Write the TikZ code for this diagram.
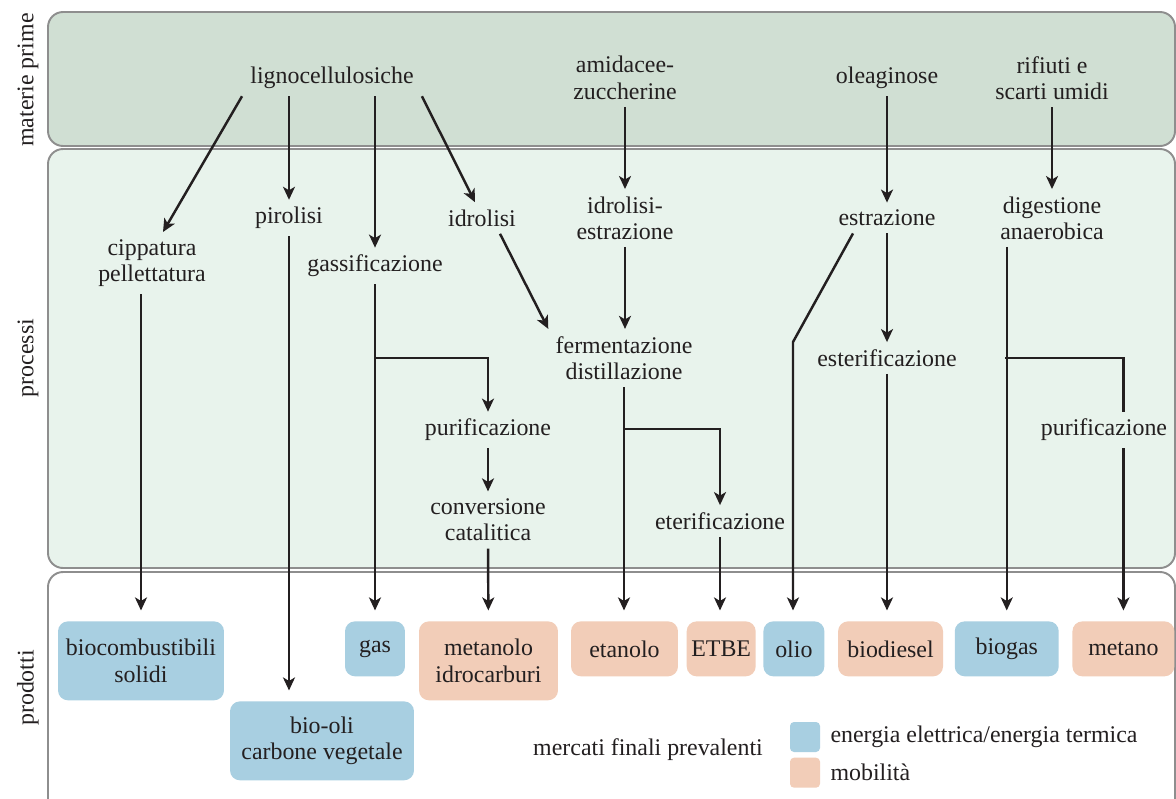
\documentclass[tikz,border=0pt]{standalone}
\usepackage{fontspec}
\setmainfont{Liberation Serif}
\usetikzlibrary{arrows.meta, positioning}
\definecolor{rawgreen}{HTML}{D0DFD3}
\definecolor{procgreen}{HTML}{E8F3EC}
\definecolor{bandgray}{HTML}{8E8E8E}
\definecolor{elblue}{HTML}{A8CFE1}
\definecolor{mobpeach}{HTML}{F2CDB8}
\definecolor{inkblack}{HTML}{231F20}

\begin{document}
\begin{tikzpicture}[
    x=0.02cm, y=-0.02cm,
    every node/.style={font=\fontsize{13.6}{15}\selectfont, text=inkblack},
    band/.style={draw=bandgray, line width=1.1pt, rounded corners=0.3cm},
    sidelabel/.style={rotate=90},
    txt/.style={align=center, inner sep=4pt},
    prod/.style={rounded corners=0.2cm, align=center, inner sep=2pt, minimum height=1.1cm},
    prodblue/.style={prod, fill=elblue},
    prodpeach/.style={prod, fill=mobpeach},
    conn/.style={-{Stealth[length=7.4pt, width=6.8pt, inset=2pt]}, line width=1.4pt, draw=inkblack},
    link/.style={line width=1.4pt, draw=inkblack},
    toprod/.style={conn, shorten >=6pt},
    key/.style={rounded corners=0.08cm, minimum size=0.6cm, inner sep=0pt}
]
\useasboundingbox (0,0) rectangle (1176,798);
\clip (0,0) rectangle (1176,798);

% Bands
\draw[band, fill=rawgreen] (48,12) rectangle (1175,146);
\draw[band, fill=procgreen] (48,149) rectangle (1175,568);
\draw[band, fill=white] (48,572) rectangle (1175,830);
\node[sidelabel] (lblraw) at (28,80) {materie prime};
\node[sidelabel] (lblproc) at (28,358) {processi};
\node[sidelabel] (lblprod) at (28,688) {prodotti};

% Materie prime
\node[txt] (ligno) at (332,78) {lignocellulosiche};
\node[txt] (amid) at (625,78) {amidacee-\\zuccherine};
\node[txt] (olea) at (887,78) {oleaginose};
\node[txt] (rifiuti) at (1052,78) {rifiuti e\\scarti umidi};

% Processi
\node[txt] (cipp) at (152,263) {cippatura\\pellettatura};
\node[txt] (piro) at (289,218) {pirolisi};
\node[txt] (gass) at (375,266) {gassificazione};
\node[txt] (idro) at (482,218) {idrolisi};
\node[txt] (idroestr) at (625,218) {idrolisi-\\estrazione};
\node[txt] (ferm) at (624,358) {fermentazione\\distillazione};
\node[txt] (purgas) at (488,430) {purificazione};
\node[txt] (conv) at (488,520) {conversione\\catalitica};
\node[txt] (eter) at (720,521) {eterificazione};
\node[txt] (estr) at (887,218) {estrazione};
\node[txt] (ester) at (887,358) {esterificazione};
\node[txt] (dig) at (1052,218) {digestione\\anaerobica};
\node[txt] (purbio) at (1104,430) {purificazione};

% Prodotti
\node[prodblue, minimum width=3.32cm, minimum height=1.58cm, anchor=north] (solidi) at (141,621) {biocombustibili\\solidi};
\node[prodblue, minimum width=3.68cm, minimum height=1.58cm, anchor=north] (biooli) at (322,701) {bio-oli\\carbone vegetale};
\node[prodblue, minimum width=1.2cm, anchor=north] (gas) at (375,621) {gas};
\node[prodpeach, minimum width=2.78cm, minimum height=1.58cm, anchor=north] (metanolo) at (488.5,621) {metanolo\\idrocarburi};
\node[prodpeach, minimum width=2.14cm, anchor=north] (etanolo) at (624.5,621) {etanolo};
\node[prodpeach, minimum width=1.38cm, right=0.16cm of etanolo] (etbe) {ETBE};
\node[prodblue, minimum width=1.22cm, right=0.14cm of etbe] (olio) {olio};
\node[prodpeach, minimum width=2.1cm, right=0.26cm of olio] (biodiesel) {biodiesel};
\node[prodblue, minimum width=2.08cm, right=0.22cm of biodiesel] (biogas) {biogas};
\node[prodpeach, minimum width=2.04cm, right=0.26cm of biogas] (metano) {metano};

% Legenda
\node (mercati) at (648,750) {mercati finali prevalenti};
\node[key, fill=elblue] (keyblue) at (805,737) {};
\node[key, fill=mobpeach, below=0.1cm of keyblue] (keypeach) {};
\node[right=0.08cm of keyblue] (keyblueText) {energia elettrica/energia termica};
\node[right=0.08cm of keypeach] (keypeachText) {mobilità};

% lignocellulosiche
\draw[conn] ([xshift=-1.8cm]ligno.south) -- ([xshift=0.22cm]cipp.north);
\draw[conn] (ligno.south -| piro) -- (piro);
\draw[conn] (ligno.south -| gass) -- (gass);
\draw[conn] ([xshift=1.8cm]ligno.south) -- ([xshift=-0.14cm]idro.north);
\draw[toprod] (solidi.north |- cipp.south) -- (solidi);
\draw[toprod] (piro) -- (piro |- biooli.north);
\draw[toprod] (gass) -- (gas);
\coordinate (gasbranch) at (375,358);
\draw[conn] (gasbranch) -| (purgas);
\draw[conn] (purgas) -- (conv);
\draw[toprod] (conv) -- (metanolo);
\draw[conn] ([xshift=0.36cm]idro.south) -- (ferm.north west);

% amidacee-zuccherine
\draw[conn] (amid) -- (idroestr);
\draw[conn] (idroestr.south) -- (idroestr.south |- ferm.north);
\draw[toprod] (ferm) -- (ferm |- etanolo.north);
\coordinate (ethbranch) at (624,429);
\draw[conn] (ethbranch) -| (eter);
\draw[toprod] (eter) -- (eter |- etbe.north);

% oleaginose
\draw[conn] (olea) -- (estr);
\draw[conn] (estr) -- (ester);
\draw[toprod] (ester) -- (ester |- biodiesel.north);
\coordinate (oilbend) at (793,342);
\draw[toprod] ([xshift=-0.68cm]estr.south) -- (oilbend) -- (oilbend |- olio.north);

% rifiuti e scarti umidi
\draw[conn] (rifiuti) -- (dig);
\draw[toprod] (biogas.north |- dig.south) -- (biogas);
\coordinate (biobranch) at (1005,358);
\draw[link] (biobranch) -| (metano.north |- purbio.north);
\draw[toprod] (metano.north |- purbio.south) -- (metano);

\end{tikzpicture}
\end{document}
